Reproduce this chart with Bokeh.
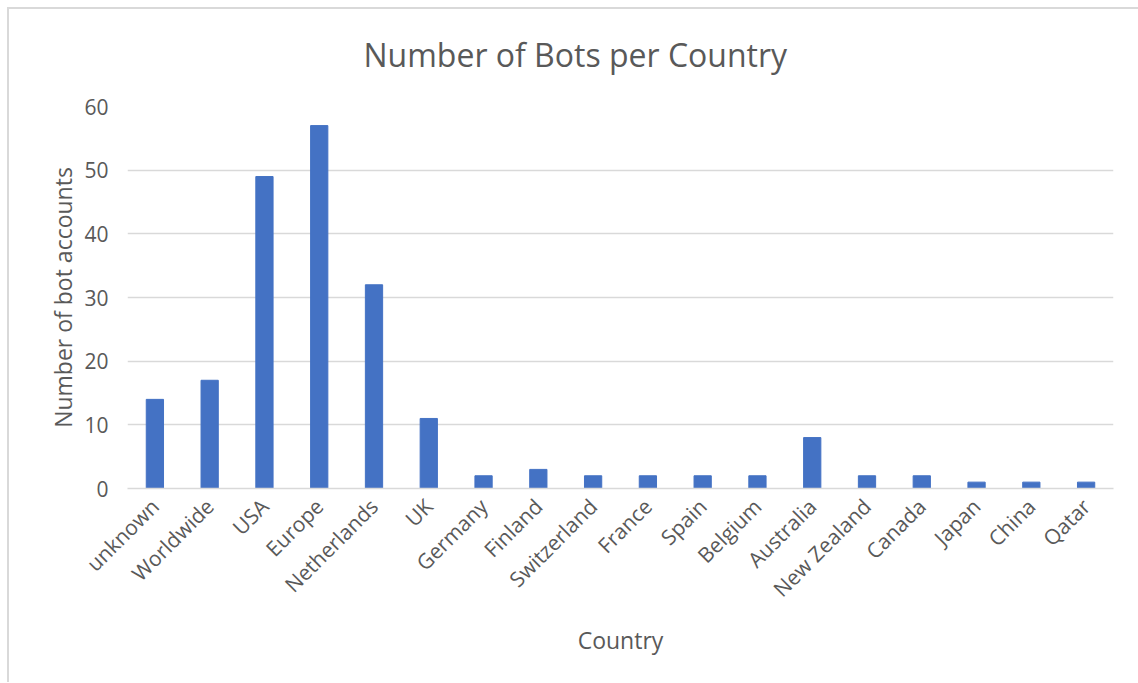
import math
from bokeh.plotting import figure
from bokeh.models import FactorRange, Range1d, FixedTicker
from bokeh.embed import file_html
from bokeh.resources import INLINE

countries = ["unknown", "Worldwide", "USA", "Europe", "Netherlands", "UK", "Germany",
             "Finland", "Switzerland", "France", "Spain", "Belgium", "Australia",
             "New Zealand", "Canada", "Japan", "China", "Qatar"]
bots = [14, 17, 49, 57, 32, 11, 2, 3, 2, 2, 2, 2, 8, 2, 2, 1, 1, 1]
y_ticks = [0, 10, 20, 30, 40, 50, 60]
title_text = "Number of Bots per Country"
x_title = "Country"
y_title = "Number of bot accounts"

FONT = "Open Sans"
GREY = "#595959"
LINE = "#d9d9d9"

p = figure(
    x_range=FactorRange(*countries, range_padding=0, factor_padding=0),
    y_range=Range1d(0, 60),
    width=1138, height=683,
    title=title_text,
    output_backend="svg", toolbar_location=None,
    min_border_left=127, min_border_right=25, min_border_top=106, min_border_bottom=195,
)
p.border_fill_color = None
p.background_fill_color = "white"
p.styles = {
    "background": ("linear-gradient(#d9d9d9, #d9d9d9) 7px 7px / 1131px 2px no-repeat, "
                   "linear-gradient(#d9d9d9, #d9d9d9) 7px 7px / 2px 675px no-repeat, white"),
}
p.outline_line_color = None

p.title.align = "left"
p.title.offset = 236
p.title.vertical_align = "middle"
p.title.text_font = FONT
p.title.text_font_size = "32px"
p.title.text_font_style = "normal"
p.title.text_color = GREY
p.title.standoff = 60

p.vbar(x=countries, top=bots, width=0.315, color="#4472c4")

p.xgrid.grid_line_color = None
p.ygrid.grid_line_color = LINE
p.ygrid.grid_line_width = 1.5

p.yaxis.ticker = FixedTicker(ticks=y_ticks)
p.yaxis.axis_line_color = None
p.yaxis.major_tick_line_color = None
p.yaxis.minor_tick_line_color = None
p.yaxis.major_label_standoff = 13
p.yaxis.axis_label = y_title
p.yaxis.axis_label_standoff = 2

p.xaxis.axis_line_color = LINE
p.xaxis.axis_line_width = 1.5
p.xaxis.major_tick_line_color = None
p.xaxis.major_label_orientation = math.pi / 4
p.xaxis.major_label_standoff = 8
p.xaxis.axis_label = x_title
p.xaxis.axis_label_standoff = 9

for ax in (p.xaxis[0], p.yaxis[0]):
    ax.major_label_text_font = FONT
    ax.major_label_text_font_size = "21px"
    ax.major_label_text_color = GREY
    ax.axis_label_text_font = FONT
    ax.axis_label_text_font_size = "23px"
    ax.axis_label_text_font_style = "normal"
    ax.axis_label_text_color = GREY

open("out.html", "w").write(file_html(p, INLINE))
